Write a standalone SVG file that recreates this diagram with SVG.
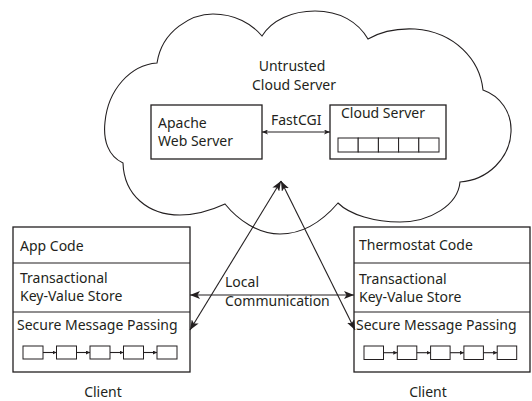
<svg xmlns="http://www.w3.org/2000/svg" width="532" height="401" viewBox="0 0 532 401">
<style>
  text { font-family: "Noto Sans", "Open Sans", sans-serif; font-size: 14px; fill: #231f20; }
  .box { fill: #fff; stroke: #231f20; stroke-width: 1.3; }
  .cell { fill: #fff; stroke: #231f20; stroke-width: 1; }
  .ln { fill: none; stroke: #231f20; stroke-width: 1.1; }
  .cloud { fill: #fff; stroke: #231f20; stroke-width: 1.1; }
  .mid { text-anchor: middle; }
</style>
<defs>
  <marker id="ah" viewBox="0 0 10 8" refX="10" refY="4" markerWidth="10" markerHeight="8" markerUnits="userSpaceOnUse" orient="auto-start-reverse">
    <path d="M0,0 L10,4 L0,8 L2.5,4 Z" fill="#231f20"/>
  </marker>
  <marker id="ahs" viewBox="0 0 6 5" refX="6" refY="2.5" markerWidth="6" markerHeight="5" markerUnits="userSpaceOnUse" orient="auto-start-reverse">
    <path d="M0,0 L6,2.5 L0,5 L1.5,2.5 Z" fill="#231f20"/>
  </marker>
  <marker id="aht" viewBox="0 0 4 4" refX="4" refY="2" markerWidth="4" markerHeight="4" markerUnits="userSpaceOnUse" orient="auto">
    <path d="M0,0 L4,2 L0,4 Z" fill="#231f20"/>
  </marker>
</defs>

<g id="cloud">
  <path class="cloud" d="M157,63 C162,30 192,14 213,14 C235,14 252,24 262,36 C272,20 292,11 315,11 C340,11 358,22 368,39 C380,32 395,28 415,29 C455,32 480,60 483,90 C500,96 512,112 511,132 C510,158 488,180 460,182 C458,205 430,222 400,222 C375,222 350,215 338,203 C320,224 300,234 280,234 C258,234 238,220 225,204 C212,210 196,215 180,215 C148,215 124,195 123,163 C108,156 103,140 105,122 C108,90 130,65 157,63 Z"/>
  <text class="mid" x="292" y="71">Untrusted</text>
  <text class="mid" x="294" y="90">Cloud Server</text>
</g>

<g id="apache">
  <rect class="box" x="151" y="105" width="111" height="54"/>
  <text x="158" y="128">Apache</text>
  <text x="158" y="146">Web Server</text>
</g>

<g id="cloud-server">
  <rect class="box" x="330" y="105" width="116" height="54"/>
  <text x="341" y="118">Cloud Server</text>
  <rect class="cell" x="338" y="138" width="20.2" height="14"/>
  <rect class="cell" x="358.2" y="138" width="20.2" height="14"/>
  <rect class="cell" x="378.4" y="138" width="20.2" height="14"/>
  <rect class="cell" x="398.6" y="138" width="20.2" height="14"/>
  <rect class="cell" x="418.8" y="138" width="20.2" height="14"/>
</g>

<g id="client-left">
  <rect class="box" x="13" y="227" width="177" height="145"/>
  <line class="ln" x1="13" y1="263" x2="190" y2="263"/>
  <line class="ln" x1="13" y1="312" x2="190" y2="312"/>
  <text x="20" y="251">App Code</text>
  <text x="20" y="283">Transactional</text>
  <text x="20" y="301">Key-Value Store</text>
  <text x="17" y="330">Secure Message Passing</text>
  <rect class="cell" x="23" y="346" width="20" height="13"/>
  <rect class="cell" x="56.5" y="346" width="20" height="13"/>
  <rect class="cell" x="90" y="346" width="20" height="13"/>
  <rect class="cell" x="123.5" y="346" width="20" height="13"/>
  <rect class="cell" x="157" y="346" width="20" height="13"/>
  <line class="ln" x1="43" y1="352.5" x2="56.5" y2="352.5" marker-end="url(#aht)"/>
  <line class="ln" x1="76.5" y1="352.5" x2="90" y2="352.5" marker-end="url(#aht)"/>
  <line class="ln" x1="110" y1="352.5" x2="123.5" y2="352.5" marker-end="url(#aht)"/>
  <line class="ln" x1="143.5" y1="352.5" x2="157" y2="352.5" marker-end="url(#aht)"/>
  <text class="mid" x="103" y="397">Client</text>
</g>

<g id="client-right">
  <rect class="box" x="354" y="227" width="176" height="145"/>
  <line class="ln" x1="354" y1="263" x2="530" y2="263"/>
  <line class="ln" x1="354" y1="312" x2="530" y2="312"/>
  <text x="359" y="250">Thermostat Code</text>
  <text x="359" y="284">Transactional</text>
  <text x="359" y="302">Key-Value Store</text>
  <text x="356" y="330">Secure Message Passing</text>
  <rect class="cell" x="364" y="346" width="19.5" height="13.5"/>
  <rect class="cell" x="397.3" y="346" width="19.5" height="13.5"/>
  <rect class="cell" x="430.6" y="346" width="19.5" height="13.5"/>
  <rect class="cell" x="463.9" y="346" width="19.5" height="13.5"/>
  <rect class="cell" x="497.2" y="346" width="19.5" height="13.5"/>
  <line class="ln" x1="383.5" y1="352.7" x2="397.3" y2="352.7" marker-end="url(#aht)"/>
  <line class="ln" x1="416.8" y1="352.7" x2="430.6" y2="352.7" marker-end="url(#aht)"/>
  <line class="ln" x1="450.1" y1="352.7" x2="463.9" y2="352.7" marker-end="url(#aht)"/>
  <line class="ln" x1="483.4" y1="352.7" x2="497.2" y2="352.7" marker-end="url(#aht)"/>
  <text class="mid" x="428" y="397">Client</text>
</g>

<g id="connectors">
  <line class="ln" x1="262" y1="132" x2="330" y2="132" marker-start="url(#ahs)" marker-end="url(#ahs)"/>
  <text x="271" y="125">FastCGI</text>
  <line class="ln" x1="190" y1="295" x2="354" y2="295" marker-start="url(#ah)" marker-end="url(#ah)"/>
  <text x="225" y="287">Local</text>
  <text x="225" y="306">Communication</text>
  <line class="ln" x1="190" y1="330" x2="281" y2="181" marker-start="url(#ah)" marker-end="url(#ah)"/>
  <line class="ln" x1="355" y1="330" x2="281" y2="181" marker-start="url(#ah)" marker-end="url(#ah)"/>
</g>
</svg>
